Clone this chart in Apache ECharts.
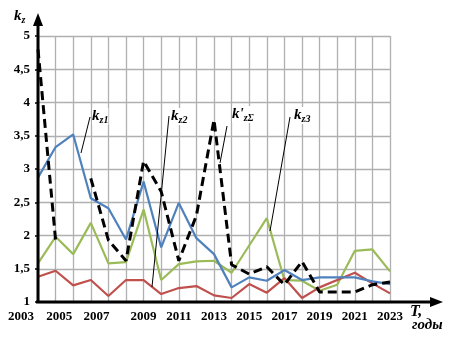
<!DOCTYPE html>
<html><head><meta charset="utf-8">
<script src="https://cdn.jsdelivr.net/npm/echarts@6/dist/echarts.min.js"></script>
<style>html,body{margin:0;padding:0;background:#fff}#c{width:454px;height:338px}</style>
</head><body><div id="c"></div>
<script>
const years = [2003,2004,2005,2006,2007,2008,2009,2010,2011,2012,2013,2014,2015,2016,2017,2018,2019,2020,2021,2022,2023];
const kz1 = [2.87,3.33,3.52,2.56,2.41,1.94,2.81,1.82,2.49,1.96,1.72,1.22,1.37,1.32,1.48,1.33,1.37,1.37,1.37,1.31,1.27];
const kz2 = [1.38,1.47,1.25,1.33,1.09,1.33,1.33,1.12,1.21,1.24,1.10,1.06,1.27,1.14,1.36,1.06,1.22,1.33,1.44,1.28,1.13];
const kz3 = [1.58,1.98,1.72,2.19,1.58,1.60,2.39,1.33,1.57,1.61,1.62,1.44,1.85,2.26,1.33,1.32,1.17,1.26,1.77,1.79,1.46];
const kzSum = [4.80,1.93,null,2.86,1.93,1.62,3.12,2.66,1.62,2.30,3.74,1.56,1.42,1.53,1.26,1.61,1.15,1.15,1.15,1.26,1.30];

const pairs = arr => years.map((y,i) => [y, arr[i]]);
const serif = '"Liberation Serif","DejaVu Serif",serif';
const chart = echarts.init(document.getElementById('c'), null, {renderer:'canvas'});

const labelRich = {
  k: {fontFamily: serif, fontStyle:'italic', fontWeight:'bold', fontSize:15, color:'#000'},
  s: {fontFamily: serif, fontStyle:'italic', fontWeight:'bold', fontSize:10, color:'#000', padding:[7,0,0,0]}
};
const xLabStyle = {fontFamily:serif, fontWeight:'bold', fontSize:13, color:'#000'};

chart.setOption({
  animation:false,
  backgroundColor:'#fff',
  grid:{left:38, right:64, top:36, bottom:36},
  xAxis:{
    type:'value', min:2003, max:2023, interval:1,
    axisLine:{show:false},
    axisTick:{show:false},
    axisLabel:{
      fontFamily:serif, fontWeight:'bold', fontSize:13, color:'#000', margin:8,
      formatter: v => {
        if ((v-2003)%2!==0) return '';
        if (v===2003) return '{a|'+v+'}';
        if (v===2005) return '{b|'+v+'}';
        if (v===2007) return '{c|'+v+'}';
        return String(v);
      },
      rich:{
        a:Object.assign({padding:[0,34,0,0]}, xLabStyle),
        b:Object.assign({padding:[0,28,0,0]}, xLabStyle),
        c:Object.assign({padding:[0,24,0,0]}, xLabStyle)
      }
    },
    splitLine:{show:true, lineStyle:{color:'#b0b0b0', width:1.3}}
  },
  yAxis:{
    type:'value', min:1, max:5, interval:0.5,
    axisLine:{show:false},
    axisTick:{show:true, length:3, lineStyle:{color:'#000', width:1.5}},
    axisLabel:{
      fontFamily:serif, fontWeight:'bold', fontSize:13, color:'#000', margin:8,
      formatter: v => String(v).replace('.', ',')
    },
    splitLine:{show:true, lineStyle:{color:'#b0b0b0', width:1.3}}
  },
  series:[
    {name:'kz3', type:'line', data:pairs(kz3), symbol:'none', lineStyle:{color:'#9BBB59', width:2.2}, z:3},
    {name:'kz2', type:'line', data:pairs(kz2), symbol:'none', lineStyle:{color:'#C0504D', width:2.2}, z:3},
    {name:'kz1', type:'line', data:pairs(kz1), symbol:'none', lineStyle:{color:'#4F81BD', width:2.2}, z:4},
    {name:'kzSum', type:'line', data:pairs(kzSum), symbol:'none', connectNulls:false,
     lineStyle:{color:'#000', width:3, type:[9,5]}, z:5}
  ]
});

// axes with arrows and annotations
const o = chart.convertToPixel({gridIndex:0}, [2003, 1]);
const e = chart.convertToPixel({gridIndex:0}, [2023, 5]);
const g = [];
// x axis
g.push({type:'line', shape:{x1:o[0]-2, y1:o[1], x2:e[0]+44, y2:o[1]}, style:{stroke:'#000', lineWidth:3}, z:10});
g.push({type:'polygon', shape:{points:[[e[0]+53,o[1]],[e[0]+40,o[1]-5],[e[0]+40,o[1]+5]]}, style:{fill:'#000'}, z:10});
// y axis
g.push({type:'line', shape:{x1:o[0], y1:o[1]+1, x2:o[0], y2:e[1]-14}, style:{stroke:'#000', lineWidth:3}, z:10});
g.push({type:'polygon', shape:{points:[[o[0],e[1]-23],[o[0]-5,e[1]-10],[o[0]+5,e[1]-10]]}, style:{fill:'#000'}, z:10});
// axis titles
g.push({type:'text', left:14, top:9, style:{text:'{k|k}{s|z}', rich:labelRich}, z:10});
g.push({type:'text', left:410, top:304, style:{text:'T,', fontFamily:serif, fontStyle:'italic', fontWeight:'bold', fontSize:16, fill:'#000'}, z:10});
g.push({type:'text', left:412, top:318, style:{text:'годы', fontFamily:serif, fontStyle:'italic', fontWeight:'bold', fontSize:15, fill:'#000'}, z:10});
// series annotations: label + leader
const ann = [
  {txt:'{k|k}{s|z1}', lx:92, ly:108, p1:[90,117], p2:[81,153]},
  {txt:'{k|k}{s|z2}', lx:171, ly:108, p1:[169,116], p2:[152,287]},
  {txt:"{k|k'}{s|zΣ}", lx:232, ly:106, p1:[227,126], p2:[220,163]},
  {txt:'{k|k}{s|z3}', lx:294, ly:107, p1:[290,117], p2:[270,231]}
];
ann.forEach(a => {
  g.push({type:'text', left:a.lx, top:a.ly, style:{text:a.txt, rich:labelRich, backgroundColor:'#fff'}, z:11});
  g.push({type:'line', shape:{x1:a.p1[0], y1:a.p1[1], x2:a.p2[0], y2:a.p2[1]}, style:{stroke:'#000', lineWidth:1}, z:9});
});
chart.setOption({graphic:g});
</script></body></html>
